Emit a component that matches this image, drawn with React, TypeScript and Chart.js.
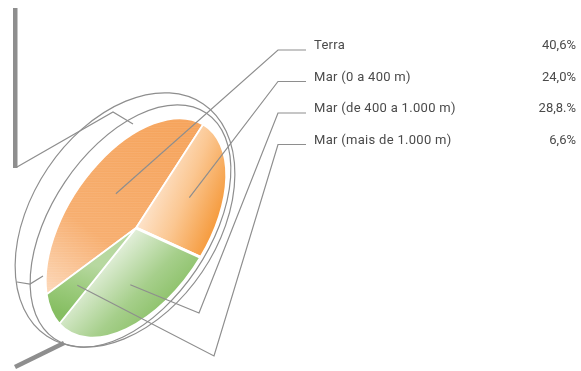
import React, { useEffect, useRef } from "react";
import { Chart, registerables } from "chart.js";

Chart.register(...registerables);

// ---- data ----
const categories = [
  "Terra",
  "Mar (0 a 400 m)",
  "Mar (de 400 a 1.000 m)",
  "Mar (mais de 1.000 m)",
];
const shares = [40.6, 24.0, 28.8, 6.6];
const shareLabels = ["40,6%", "24,0%", "28,8.%", "6,6%"];

// ---- styles ----
const sliceStops = [
  ["#f6a45c", "#f7ae6f", "#fddcc0"],
  ["#fee9d6", "#fbc792", "#f59a3c"],
  ["#e6f1df", "#a6cf8b", "#7db955"],
  ["#b7d8a0", "#9ccb7d", "#86be62"],
];
const sliceMidStop = [0.62, 0.5, 0.5, 0.5];
// gradient axes given on screen (x0, y0, x1, y1)
const sliceGradientAxes = [
  [170, 120, 45, 300],
  [140, 200, 227, 200],
  [128, 232, 175, 325],
  [85, 262, 58, 312],
];

const GREY = "#8e8e8e";
const TEXT = "#4a4a4a";
const FONT = "13px Roboto, 'DejaVu Sans', sans-serif";

// tilted ellipse geometry for the pie face
const PIE = { cx: 136, cy: 228, a: 124, b: 70, tilt: 56 };
const PIE_R = 100;
const ROTATION = -58;
const LEADER_FRAC = [0.53, 0.59, 0.56, 0.69];

const th = (PIE.tilt * Math.PI) / 180;
const U = [Math.cos(th), -Math.sin(th)];
const V = [Math.sin(th), Math.cos(th)];

function toScreen(nx: number, ny: number): [number, number] {
  return [
    PIE.cx + nx * PIE.a * U[0] + ny * PIE.b * V[0],
    PIE.cy + nx * PIE.a * U[1] + ny * PIE.b * V[1],
  ];
}
function toUnit(sx: number, sy: number): [number, number] {
  const dx = sx - PIE.cx;
  const dy = sy - PIE.cy;
  return [(dx * U[0] + dy * U[1]) / PIE.a, (dx * V[0] + dy * V[1]) / PIE.b];
}

// label rows
const ROW_Y0 = 50;
const ROW_DY = 31.5;
const ELBOW_X = 278;
const LINE_END_X = 306;
const LABEL_X = 314;
const VALUE_X = 576;
// extra bend points of the leader lines (screen), per slice
const leaderBends: number[][][] = [[], [], [[199, 313]], [[214, 356]]];

function sliceColor(c: any) {
  const i = c.dataIndex;
  const chart = c.chart;
  const area = chart.chartArea;
  if (!area) return sliceStops[i][1];
  const ox = (area.left + area.right) / 2;
  const oy = (area.top + area.bottom) / 2;
  const [x0, y0, x1, y1] = sliceGradientAxes[i];
  const p0 = toUnit(x0, y0);
  const p1 = toUnit(x1, y1);
  const g = chart.ctx.createLinearGradient(
    ox + p0[0] * PIE_R,
    oy + p0[1] * PIE_R,
    ox + p1[0] * PIE_R,
    oy + p1[1] * PIE_R
  );
  g.addColorStop(0, sliceStops[i][0]);
  g.addColorStop(sliceMidStop[i], sliceStops[i][1]);
  g.addColorStop(1, sliceStops[i][2]);
  return g;
}

const tiltPlugin = {
  id: "tilt",
  beforeDatasetsDraw(chart: any) {
    const ctx = chart.ctx as CanvasRenderingContext2D;
    // disc rim + stand
    ctx.save();
    ctx.strokeStyle = GREY;
    ctx.lineWidth = 1.2;
    ctx.beginPath();
    ctx.ellipse(125, 220, 140, 93, -th, 0, Math.PI * 2);
    ctx.stroke();
    ctx.beginPath();
    ctx.ellipse(130.5, 226, 136, 79, -th, 0, Math.PI * 2);
    ctx.stroke();
    ctx.beginPath();
    ctx.moveTo(17, 167);
    ctx.lineTo(113, 112);
    ctx.lineTo(133, 124);
    ctx.moveTo(17, 282);
    ctx.lineTo(30, 284);
    ctx.lineTo(43, 276);
    ctx.stroke();
    ctx.fillStyle = GREY;
    ctx.fillRect(13, 8, 4.5, 160);
    ctx.lineWidth = 4.5;
    ctx.beginPath();
    ctx.moveTo(15, 367);
    ctx.lineTo(64, 343);
    ctx.stroke();
    ctx.restore();

    const meta = chart.getDatasetMeta(0);
    const arc = meta.data[0];
    if (!arc) return;
    const R = arc.outerRadius;
    ctx.save();
    ctx.translate(PIE.cx, PIE.cy);
    ctx.transform(
      (PIE.a * U[0]) / R,
      (PIE.a * U[1]) / R,
      (PIE.b * V[0]) / R,
      (PIE.b * V[1]) / R,
      0,
      0
    );
    ctx.translate(-arc.x, -arc.y);
  },
  afterDatasetsDraw(chart: any) {
    const ctx = chart.ctx as CanvasRenderingContext2D;
    const meta = chart.getDatasetMeta(0);
    // texture on Terra
    const t = meta.data[0];
    if (t) {
      ctx.save();
      ctx.beginPath();
      ctx.moveTo(t.x, t.y);
      ctx.arc(t.x, t.y, t.outerRadius - 1, t.startAngle, t.endAngle);
      ctx.closePath();
      ctx.clip();
      ctx.setTransform(1, 0, 0, 1, 0, 0);
      ctx.strokeStyle = "rgba(255,255,255,0.08)";
      ctx.lineWidth = 1;
      for (let y = 100; y < 350; y += 2.5) {
        ctx.beginPath();
        ctx.moveTo(20, y);
        ctx.lineTo(240, y);
        ctx.stroke();
      }
      ctx.restore();
    }
    ctx.restore();

    // leader lines and labels
    ctx.save();
    ctx.strokeStyle = GREY;
    ctx.lineWidth = 1.2;
    meta.data.forEach((el: any, i: number) => {
      const mid = (el.startAngle + el.endAngle) / 2;
      const f = LEADER_FRAC[i];
      const [sx, sy] = toScreen(Math.cos(mid) * f, Math.sin(mid) * f);
      const rowY = ROW_Y0 + i * ROW_DY;
      ctx.beginPath();
      ctx.moveTo(sx, sy);
      leaderBends[i].forEach((p) => ctx.lineTo(p[0], p[1]));
      ctx.lineTo(ELBOW_X, rowY);
      ctx.lineTo(LINE_END_X, rowY);
      ctx.stroke();

      ctx.fillStyle = TEXT;
      ctx.font = FONT;
      ctx.textBaseline = "middle";
      ctx.textAlign = "left";
      (ctx as any).letterSpacing = "0.3px";
      ctx.fillText(categories[i], LABEL_X, rowY - 4);
      (ctx as any).letterSpacing = "0px";
      ctx.textAlign = "right";
      ctx.fillText(shareLabels[i], VALUE_X, rowY - 4);
    });
    ctx.restore();
  },
};

export default function App() {
  const ref = useRef<HTMLCanvasElement | null>(null);
  useEffect(() => {
    if (!ref.current) return;
    const chart = new Chart(ref.current, {
      type: "pie",
      data: {
        labels: categories,
        datasets: [
          {
            data: shares,
            backgroundColor: sliceColor,
            borderColor: "#ffffff",
            borderWidth: 2.4,
            radius: PIE_R,
            clip: false,
          } as any,
        ],
      },
      options: {
        responsive: false,
        maintainAspectRatio: false,
        animation: false,
        events: [],
        rotation: ROTATION,
        layout: { padding: 0 },
        plugins: {
          legend: { display: false },
          tooltip: { enabled: false },
        },
      },
      plugins: [tiltPlugin],
    });
    return () => chart.destroy();
  }, []);
  return (
    <div
      style={{
        position: "fixed",
        left: 0,
        top: 0,
        width: 581,
        height: 371,
        background: "#ffffff",
      }}
    >
      <canvas ref={ref} width={581} height={371} />
    </div>
  );
}
